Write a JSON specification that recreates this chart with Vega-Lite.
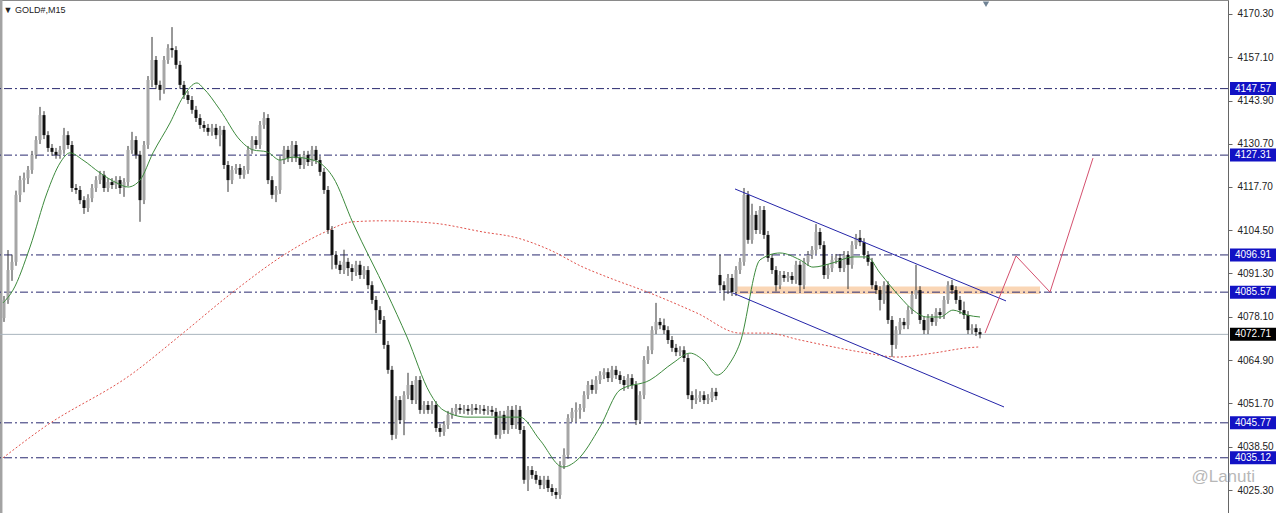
{
"$schema": "https://vega.github.io/schema/vega-lite/v6.json",
"width": 1228, "height": 513,
"autosize": {"type": "none"},
"padding": {"left": 0, "top": 0, "right": 52, "bottom": 0},
"background": "white",
"config": {"view": {"stroke": "#8a8a8a", "strokeWidth": 1}},
"datasets": {
"candles": [
{"i":1,"o":4077.7,"h":4084.4,"l":4076.5,"c":4083.2},
{"i":2,"o":4083.2,"h":4098.4,"l":4082.0,"c":4092.3},
{"i":3,"o":4092.3,"h":4097.0,"l":4089.0,"c":4094.8},
{"i":4,"o":4094.8,"h":4116.5,"l":4093.6,"c":4115.2},
{"i":5,"o":4115.2,"h":4121.0,"l":4113.0,"c":4119.7},
{"i":6,"o":4119.7,"h":4122.0,"l":4116.0,"c":4120.3},
{"i":7,"o":4120.3,"h":4124.0,"l":4118.5,"c":4122.8},
{"i":8,"o":4122.8,"h":4128.6,"l":4121.6,"c":4127.4},
{"i":9,"o":4127.4,"h":4133.1,"l":4126.2,"c":4131.9},
{"i":10,"o":4131.9,"h":4142.0,"l":4130.7,"c":4139.5},
{"i":11,"o":4139.5,"h":4140.7,"l":4132.2,"c":4133.4},
{"i":12,"o":4133.4,"h":4134.6,"l":4128.3,"c":4129.5},
{"i":13,"o":4129.5,"h":4130.7,"l":4127.1,"c":4128.3},
{"i":14,"o":4128.3,"h":4129.5,"l":4126.2,"c":4127.4},
{"i":15,"o":4127.4,"h":4130.1,"l":4126.2,"c":4128.9},
{"i":16,"o":4128.9,"h":4135.6,"l":4127.7,"c":4133.4},
{"i":17,"o":4133.4,"h":4134.6,"l":4129.2,"c":4130.4},
{"i":18,"o":4130.4,"h":4131.6,"l":4116.1,"c":4117.3},
{"i":19,"o":4117.3,"h":4118.5,"l":4115.5,"c":4116.7},
{"i":20,"o":4116.7,"h":4117.9,"l":4112.4,"c":4113.6},
{"i":21,"o":4113.6,"h":4114.8,"l":4109.4,"c":4111.2},
{"i":22,"o":4111.2,"h":4115.4,"l":4110.0,"c":4114.2},
{"i":23,"o":4114.2,"h":4118.5,"l":4113.0,"c":4117.3},
{"i":24,"o":4117.3,"h":4120.9,"l":4116.1,"c":4119.7},
{"i":25,"o":4119.7,"h":4122.5,"l":4118.5,"c":4121.3},
{"i":26,"o":4121.3,"h":4122.5,"l":4116.1,"c":4117.3},
{"i":27,"o":4117.3,"h":4120.3,"l":4116.1,"c":4119.1},
{"i":28,"o":4119.1,"h":4120.3,"l":4117.0,"c":4118.2},
{"i":29,"o":4118.2,"h":4120.9,"l":4117.0,"c":4119.7},
{"i":30,"o":4119.7,"h":4120.9,"l":4115.5,"c":4117.3},
{"i":31,"o":4117.3,"h":4120.3,"l":4114.6,"c":4119.1},
{"i":32,"o":4119.1,"h":4130.1,"l":4117.9,"c":4128.9},
{"i":33,"o":4128.9,"h":4134.4,"l":4127.7,"c":4131.9},
{"i":34,"o":4131.9,"h":4133.1,"l":4126.2,"c":4127.4},
{"i":35,"o":4127.4,"h":4128.6,"l":4107.0,"c":4113.6},
{"i":36,"o":4113.6,"h":4131.6,"l":4112.4,"c":4130.4},
{"i":37,"o":4130.4,"h":4151.4,"l":4129.2,"c":4150.2},
{"i":38,"o":4150.2,"h":4163.3,"l":4148.0,"c":4156.3},
{"i":39,"o":4156.3,"h":4157.5,"l":4147.5,"c":4148.7},
{"i":40,"o":4148.7,"h":4150.0,"l":4144.0,"c":4147.2},
{"i":41,"o":4147.2,"h":4157.5,"l":4146.0,"c":4156.3},
{"i":42,"o":4156.3,"h":4161.1,"l":4155.1,"c":4159.9},
{"i":43,"o":4159.9,"h":4166.3,"l":4157.0,"c":4159.3},
{"i":44,"o":4159.3,"h":4160.5,"l":4153.6,"c":4154.8},
{"i":45,"o":4154.8,"h":4156.0,"l":4147.5,"c":4148.7},
{"i":46,"o":4148.7,"h":4149.9,"l":4144.4,"c":4145.6},
{"i":47,"o":4145.6,"h":4146.8,"l":4142.9,"c":4144.1},
{"i":48,"o":4144.1,"h":4145.3,"l":4139.9,"c":4141.1},
{"i":49,"o":4141.1,"h":4142.3,"l":4137.4,"c":4138.6},
{"i":50,"o":4138.6,"h":4139.8,"l":4135.3,"c":4136.5},
{"i":51,"o":4136.5,"h":4137.7,"l":4134.4,"c":4135.6},
{"i":52,"o":4135.6,"h":4136.8,"l":4133.2,"c":4134.4},
{"i":53,"o":4134.4,"h":4136.8,"l":4133.2,"c":4135.6},
{"i":54,"o":4135.6,"h":4136.8,"l":4132.2,"c":4133.4},
{"i":55,"o":4133.4,"h":4136.2,"l":4130.0,"c":4135.0},
{"i":56,"o":4135.0,"h":4136.2,"l":4123.1,"c":4124.3},
{"i":57,"o":4124.3,"h":4125.5,"l":4116.1,"c":4119.7},
{"i":58,"o":4119.7,"h":4124.0,"l":4118.5,"c":4122.8},
{"i":59,"o":4122.8,"h":4124.6,"l":4121.6,"c":4123.4},
{"i":60,"o":4123.4,"h":4124.6,"l":4120.1,"c":4121.3},
{"i":61,"o":4121.3,"h":4124.0,"l":4120.1,"c":4122.8},
{"i":62,"o":4122.8,"h":4130.1,"l":4121.6,"c":4128.9},
{"i":63,"o":4128.9,"h":4133.1,"l":4127.7,"c":4131.9},
{"i":64,"o":4131.9,"h":4133.1,"l":4129.2,"c":4130.4},
{"i":65,"o":4130.4,"h":4137.7,"l":4129.2,"c":4136.5},
{"i":66,"o":4136.5,"h":4140.4,"l":4135.3,"c":4138.6},
{"i":67,"o":4138.6,"h":4139.8,"l":4118.5,"c":4119.7},
{"i":68,"o":4119.7,"h":4120.9,"l":4114.0,"c":4115.2},
{"i":69,"o":4115.2,"h":4117.9,"l":4113.0,"c":4116.7},
{"i":70,"o":4116.7,"h":4127.0,"l":4115.5,"c":4125.8},
{"i":71,"o":4125.8,"h":4130.1,"l":4124.6,"c":4128.9},
{"i":72,"o":4128.9,"h":4130.1,"l":4125.2,"c":4126.4},
{"i":73,"o":4126.4,"h":4131.6,"l":4125.2,"c":4130.4},
{"i":74,"o":4130.4,"h":4131.6,"l":4125.2,"c":4126.4},
{"i":75,"o":4126.4,"h":4127.6,"l":4123.1,"c":4124.3},
{"i":76,"o":4124.3,"h":4128.6,"l":4123.1,"c":4127.4},
{"i":77,"o":4127.4,"h":4128.6,"l":4124.0,"c":4125.2},
{"i":78,"o":4125.2,"h":4130.1,"l":4124.0,"c":4128.9},
{"i":79,"o":4128.9,"h":4130.1,"l":4124.6,"c":4125.8},
{"i":80,"o":4125.8,"h":4127.0,"l":4121.0,"c":4122.2},
{"i":81,"o":4122.2,"h":4123.4,"l":4115.5,"c":4116.7},
{"i":82,"o":4116.7,"h":4117.9,"l":4103.3,"c":4104.5},
{"i":83,"o":4104.5,"h":4105.7,"l":4092.5,"c":4096.9},
{"i":84,"o":4096.9,"h":4098.1,"l":4092.7,"c":4093.9},
{"i":85,"o":4093.9,"h":4095.1,"l":4091.1,"c":4092.3},
{"i":86,"o":4092.3,"h":4098.5,"l":4091.1,"c":4094.8},
{"i":87,"o":4094.8,"h":4096.0,"l":4090.5,"c":4092.9},
{"i":88,"o":4092.9,"h":4094.1,"l":4089.0,"c":4091.7},
{"i":89,"o":4091.7,"h":4095.1,"l":4090.5,"c":4093.9},
{"i":90,"o":4093.9,"h":4095.1,"l":4089.6,"c":4090.8},
{"i":91,"o":4090.8,"h":4093.5,"l":4089.6,"c":4092.3},
{"i":92,"o":4092.3,"h":4093.5,"l":4086.5,"c":4087.7},
{"i":93,"o":4087.7,"h":4088.9,"l":4082.0,"c":4083.2},
{"i":94,"o":4083.2,"h":4084.4,"l":4073.1,"c":4080.1},
{"i":95,"o":4080.1,"h":4081.3,"l":4075.9,"c":4077.1},
{"i":96,"o":4077.1,"h":4078.3,"l":4068.3,"c":4069.5},
{"i":97,"o":4069.5,"h":4070.7,"l":4060.7,"c":4061.9},
{"i":98,"o":4061.9,"h":4063.1,"l":4040.5,"c":4042.1},
{"i":99,"o":4042.1,"h":4053.9,"l":4040.9,"c":4052.7},
{"i":100,"o":4052.7,"h":4053.9,"l":4045.4,"c":4046.6},
{"i":101,"o":4046.6,"h":4055.4,"l":4042.0,"c":4054.2},
{"i":102,"o":4054.2,"h":4061.0,"l":4053.0,"c":4057.3},
{"i":103,"o":4057.3,"h":4058.5,"l":4051.5,"c":4052.7},
{"i":104,"o":4052.7,"h":4060.0,"l":4051.5,"c":4058.8},
{"i":105,"o":4058.8,"h":4060.0,"l":4048.5,"c":4049.7},
{"i":106,"o":4049.7,"h":4052.4,"l":4048.5,"c":4051.2},
{"i":107,"o":4051.2,"h":4052.4,"l":4048.5,"c":4049.7},
{"i":108,"o":4049.7,"h":4052.4,"l":4048.5,"c":4051.2},
{"i":109,"o":4051.2,"h":4052.4,"l":4043.0,"c":4044.2},
{"i":110,"o":4044.2,"h":4045.4,"l":4041.5,"c":4043.0},
{"i":111,"o":4043.0,"h":4046.3,"l":4041.8,"c":4045.1},
{"i":112,"o":4045.1,"h":4049.4,"l":4043.9,"c":4048.2},
{"i":113,"o":4048.2,"h":4050.3,"l":4047.0,"c":4049.1},
{"i":114,"o":4049.1,"h":4051.5,"l":4047.9,"c":4050.3},
{"i":115,"o":4050.3,"h":4051.5,"l":4048.5,"c":4049.7},
{"i":116,"o":4049.7,"h":4051.2,"l":4048.5,"c":4050.0},
{"i":117,"o":4050.0,"h":4051.2,"l":4048.2,"c":4049.4},
{"i":118,"o":4049.4,"h":4051.5,"l":4048.2,"c":4050.3},
{"i":119,"o":4050.3,"h":4051.5,"l":4048.5,"c":4049.7},
{"i":120,"o":4049.7,"h":4051.2,"l":4048.5,"c":4050.0},
{"i":121,"o":4050.0,"h":4051.2,"l":4048.2,"c":4049.4},
{"i":122,"o":4049.4,"h":4050.9,"l":4048.2,"c":4049.7},
{"i":123,"o":4049.7,"h":4050.9,"l":4047.9,"c":4049.1},
{"i":124,"o":4049.1,"h":4050.3,"l":4040.9,"c":4042.1},
{"i":125,"o":4042.1,"h":4049.4,"l":4040.9,"c":4048.2},
{"i":126,"o":4048.2,"h":4049.4,"l":4042.4,"c":4043.6},
{"i":127,"o":4043.6,"h":4050.9,"l":4042.4,"c":4049.7},
{"i":128,"o":4049.7,"h":4050.9,"l":4043.9,"c":4045.1},
{"i":129,"o":4045.1,"h":4051.2,"l":4043.9,"c":4049.7},
{"i":130,"o":4049.7,"h":4050.9,"l":4042.4,"c":4043.6},
{"i":131,"o":4043.6,"h":4044.8,"l":4027.2,"c":4028.4},
{"i":132,"o":4028.4,"h":4032.6,"l":4025.0,"c":4031.4},
{"i":133,"o":4031.4,"h":4032.6,"l":4028.7,"c":4029.9},
{"i":134,"o":4029.9,"h":4031.1,"l":4027.2,"c":4028.4},
{"i":135,"o":4028.4,"h":4029.6,"l":4025.6,"c":4026.8},
{"i":136,"o":4026.8,"h":4029.6,"l":4025.6,"c":4028.4},
{"i":137,"o":4028.4,"h":4029.6,"l":4024.7,"c":4025.9},
{"i":138,"o":4025.9,"h":4027.1,"l":4023.5,"c":4024.7},
{"i":139,"o":4024.7,"h":4025.9,"l":4022.6,"c":4023.8},
{"i":140,"o":4023.8,"h":4034.1,"l":4022.6,"c":4032.9},
{"i":141,"o":4032.9,"h":4038.0,"l":4031.7,"c":4036.0},
{"i":142,"o":4036.0,"h":4048.4,"l":4034.8,"c":4047.2},
{"i":143,"o":4047.2,"h":4050.3,"l":4046.0,"c":4049.1},
{"i":144,"o":4049.1,"h":4052.0,"l":4046.0,"c":4049.7},
{"i":145,"o":4049.7,"h":4051.5,"l":4047.0,"c":4050.3},
{"i":146,"o":4050.3,"h":4055.4,"l":4049.1,"c":4054.2},
{"i":147,"o":4054.2,"h":4058.5,"l":4053.0,"c":4057.3},
{"i":148,"o":4057.3,"h":4059.0,"l":4054.6,"c":4055.8},
{"i":149,"o":4055.8,"h":4060.0,"l":4054.6,"c":4058.8},
{"i":150,"o":4058.8,"h":4061.5,"l":4057.6,"c":4060.3},
{"i":151,"o":4060.3,"h":4062.4,"l":4059.1,"c":4061.2},
{"i":152,"o":4061.2,"h":4062.4,"l":4058.2,"c":4059.4},
{"i":153,"o":4059.4,"h":4063.1,"l":4058.2,"c":4061.9},
{"i":154,"o":4061.9,"h":4063.1,"l":4059.1,"c":4060.3},
{"i":155,"o":4060.3,"h":4061.5,"l":4057.6,"c":4058.8},
{"i":156,"o":4058.8,"h":4060.0,"l":4055.5,"c":4057.3},
{"i":157,"o":4057.3,"h":4060.6,"l":4056.1,"c":4059.4},
{"i":158,"o":4059.4,"h":4060.6,"l":4056.1,"c":4057.3},
{"i":159,"o":4057.3,"h":4058.5,"l":4045.1,"c":4046.6},
{"i":160,"o":4046.6,"h":4055.4,"l":4045.4,"c":4054.2},
{"i":161,"o":4054.2,"h":4066.1,"l":4053.0,"c":4064.9},
{"i":162,"o":4064.9,"h":4069.1,"l":4063.7,"c":4067.9},
{"i":163,"o":4067.9,"h":4075.2,"l":4066.7,"c":4074.0},
{"i":164,"o":4074.0,"h":4082.3,"l":4072.8,"c":4076.5},
{"i":165,"o":4076.5,"h":4077.7,"l":4074.3,"c":4075.5},
{"i":166,"o":4075.5,"h":4077.5,"l":4072.8,"c":4074.0},
{"i":167,"o":4074.0,"h":4075.2,"l":4069.8,"c":4071.0},
{"i":168,"o":4071.0,"h":4072.2,"l":4067.4,"c":4068.6},
{"i":169,"o":4068.6,"h":4069.8,"l":4066.1,"c":4067.3},
{"i":170,"o":4067.3,"h":4069.1,"l":4066.1,"c":4067.9},
{"i":171,"o":4067.9,"h":4069.1,"l":4064.3,"c":4065.5},
{"i":172,"o":4065.5,"h":4066.7,"l":4053.0,"c":4054.2},
{"i":173,"o":4054.2,"h":4055.4,"l":4050.0,"c":4052.7},
{"i":174,"o":4052.7,"h":4056.0,"l":4051.5,"c":4053.3},
{"i":175,"o":4053.3,"h":4055.4,"l":4052.1,"c":4054.2},
{"i":176,"o":4054.2,"h":4055.4,"l":4051.5,"c":4052.7},
{"i":177,"o":4052.7,"h":4054.5,"l":4051.5,"c":4053.3},
{"i":178,"o":4053.3,"h":4056.4,"l":4052.1,"c":4055.2},
{"i":179,"o":4055.2,"h":4056.4,"l":4052.7,"c":4053.9},
{"i":180,"o":4090.8,"h":4096.9,"l":4086.0,"c":4087.7},
{"i":181,"o":4087.7,"h":4088.9,"l":4083.0,"c":4086.2},
{"i":182,"o":4086.2,"h":4091.1,"l":4085.0,"c":4089.9},
{"i":183,"o":4089.9,"h":4091.1,"l":4084.4,"c":4085.6},
{"i":184,"o":4085.6,"h":4093.5,"l":4084.4,"c":4092.3},
{"i":185,"o":4092.3,"h":4096.0,"l":4091.1,"c":4094.8},
{"i":186,"o":4094.8,"h":4117.3,"l":4093.6,"c":4115.2},
{"i":187,"o":4115.2,"h":4116.4,"l":4100.3,"c":4101.5},
{"i":188,"o":4101.5,"h":4112.5,"l":4100.3,"c":4109.1},
{"i":189,"o":4109.1,"h":4110.3,"l":4103.3,"c":4104.5},
{"i":190,"o":4104.5,"h":4111.8,"l":4103.3,"c":4110.6},
{"i":191,"o":4110.6,"h":4111.8,"l":4101.8,"c":4103.0},
{"i":192,"o":4103.0,"h":4104.2,"l":4094.8,"c":4096.0},
{"i":193,"o":4096.0,"h":4097.2,"l":4091.1,"c":4092.3},
{"i":194,"o":4092.3,"h":4093.5,"l":4085.8,"c":4087.7},
{"i":195,"o":4087.7,"h":4092.0,"l":4086.5,"c":4090.8},
{"i":196,"o":4090.8,"h":4092.0,"l":4088.7,"c":4089.9},
{"i":197,"o":4089.9,"h":4091.7,"l":4088.7,"c":4090.5},
{"i":198,"o":4090.5,"h":4091.7,"l":4088.1,"c":4089.3},
{"i":199,"o":4089.3,"h":4095.1,"l":4088.1,"c":4093.9},
{"i":200,"o":4093.9,"h":4095.1,"l":4085.8,"c":4087.7},
{"i":201,"o":4087.7,"h":4096.0,"l":4086.5,"c":4094.8},
{"i":202,"o":4094.8,"h":4098.1,"l":4093.6,"c":4096.9},
{"i":203,"o":4096.9,"h":4099.6,"l":4095.7,"c":4098.4},
{"i":204,"o":4098.4,"h":4106.3,"l":4097.2,"c":4103.9},
{"i":205,"o":4103.9,"h":4105.1,"l":4098.7,"c":4099.9},
{"i":206,"o":4099.9,"h":4101.1,"l":4089.6,"c":4090.8},
{"i":207,"o":4090.8,"h":4094.1,"l":4089.6,"c":4092.9},
{"i":208,"o":4092.9,"h":4096.6,"l":4091.7,"c":4095.4},
{"i":209,"o":4095.4,"h":4097.2,"l":4094.2,"c":4096.0},
{"i":210,"o":4096.0,"h":4097.2,"l":4091.7,"c":4092.9},
{"i":211,"o":4092.9,"h":4098.1,"l":4091.7,"c":4096.9},
{"i":212,"o":4096.9,"h":4098.1,"l":4086.5,"c":4093.9},
{"i":213,"o":4093.9,"h":4101.1,"l":4092.7,"c":4099.9},
{"i":214,"o":4099.9,"h":4103.3,"l":4098.7,"c":4102.1},
{"i":215,"o":4102.1,"h":4104.5,"l":4099.6,"c":4100.8},
{"i":216,"o":4100.8,"h":4102.0,"l":4095.7,"c":4096.9},
{"i":217,"o":4096.9,"h":4098.1,"l":4093.6,"c":4094.8},
{"i":218,"o":4094.8,"h":4096.0,"l":4086.5,"c":4087.7},
{"i":219,"o":4087.7,"h":4088.9,"l":4085.0,"c":4086.2},
{"i":220,"o":4086.2,"h":4087.4,"l":4080.0,"c":4083.2},
{"i":221,"o":4083.2,"h":4088.9,"l":4082.0,"c":4087.7},
{"i":222,"o":4087.7,"h":4088.9,"l":4075.9,"c":4077.1},
{"i":223,"o":4077.1,"h":4078.3,"l":4065.8,"c":4069.5},
{"i":224,"o":4069.5,"h":4075.2,"l":4068.3,"c":4074.0},
{"i":225,"o":4074.0,"h":4077.7,"l":4072.8,"c":4076.5},
{"i":226,"o":4076.5,"h":4077.7,"l":4074.3,"c":4075.5},
{"i":227,"o":4075.5,"h":4081.3,"l":4074.3,"c":4080.1},
{"i":228,"o":4080.1,"h":4085.9,"l":4078.9,"c":4084.7},
{"i":229,"o":4084.7,"h":4093.9,"l":4083.5,"c":4086.2},
{"i":230,"o":4086.2,"h":4087.4,"l":4075.9,"c":4077.1},
{"i":231,"o":4077.1,"h":4078.3,"l":4072.8,"c":4074.0},
{"i":232,"o":4074.0,"h":4078.9,"l":4072.8,"c":4077.7},
{"i":233,"o":4077.7,"h":4078.9,"l":4075.3,"c":4076.5},
{"i":234,"o":4076.5,"h":4080.7,"l":4075.3,"c":4079.5},
{"i":235,"o":4079.5,"h":4080.7,"l":4077.4,"c":4078.6},
{"i":236,"o":4078.6,"h":4084.4,"l":4077.4,"c":4083.2},
{"i":237,"o":4083.2,"h":4088.9,"l":4082.0,"c":4087.7},
{"i":238,"o":4087.7,"h":4089.3,"l":4085.0,"c":4086.2},
{"i":239,"o":4086.2,"h":4087.4,"l":4082.0,"c":4083.2},
{"i":240,"o":4083.2,"h":4084.4,"l":4078.9,"c":4080.1},
{"i":241,"o":4080.1,"h":4082.7,"l":4077.4,"c":4078.6},
{"i":242,"o":4078.6,"h":4079.8,"l":4072.8,"c":4074.0},
{"i":243,"o":4074.0,"h":4075.8,"l":4072.8,"c":4074.6},
{"i":244,"o":4074.6,"h":4075.8,"l":4072.2,"c":4073.4},
{"i":245,"o":4073.4,"h":4074.6,"l":4071.5,"c":4072.71}
],
"fast": [
{"b":0.75,"p":4082.3},{"b":3.25,"p":4086.2},{"b":7.5,"p":4099.3},{"b":11.75,"p":4115.8},{"b":15,"p":4124.9},{"b":17.5,"p":4128.0},{"b":20.75,"p":4125.8},{"b":25,"p":4121.9},{"b":29.25,"p":4118.8},{"b":32,"p":4117.6},{"b":35,"p":4119.7},{"b":38.25,"p":4128.0},{"b":42.5,"p":4137.1},{"b":45.75,"p":4145.0},{"b":49.25,"p":4149.3},{"b":50.75,"p":4147.8},{"b":55,"p":4141.1},{"b":60,"p":4131.9},{"b":63.25,"p":4128.9},{"b":66.75,"p":4128.3},{"b":70,"p":4125.8},{"b":73.25,"p":4126.7},{"b":78.25,"p":4125.8},{"b":80,"p":4124.9},{"b":83.25,"p":4120.6},{"b":88.25,"p":4106.6},{"b":96.75,"p":4085.3},{"b":101.75,"p":4071.9},{"b":107.5,"p":4054.8},{"b":110.75,"p":4049.7},{"b":116.75,"p":4047.5},{"b":123.25,"p":4047.5},{"b":130,"p":4047.5},{"b":135,"p":4040.5},{"b":140.75,"p":4032.3},{"b":144.25,"p":4034.4},{"b":150,"p":4044.5},{"b":155,"p":4055.8},{"b":162.5,"p":4058.8},{"b":168.25,"p":4064.0},{"b":172.5,"p":4067.0},{"b":175.75,"p":4064.9},{"b":179.25,"p":4060.3},{"b":182.5,"p":4064.0},{"b":185,"p":4070.1},{"b":190,"p":4095.4},{"b":195,"p":4097.5},{"b":200,"p":4095.4},{"b":203.25,"p":4093.2},{"b":208.25,"p":4094.5},{"b":213.25,"p":4096.3},{"b":216.75,"p":4096.3},{"b":220,"p":4091.4},{"b":225,"p":4084.1},{"b":228.25,"p":4080.1},{"b":231.75,"p":4078.0},{"b":235,"p":4078.0},{"b":238.25,"p":4080.1},{"b":241.75,"p":4078.6},{"b":245,"p":4078.0}
],
"slow": [
{"b":0.75,"p":4035.1},{"b":10.75,"p":4044.2},{"b":33.25,"p":4060.9},{"b":45.75,"p":4073.1},{"b":58.25,"p":4085.6},{"b":71.75,"p":4097.5},{"b":80.75,"p":4103.6},{"b":88.25,"p":4107.0},{"b":95.75,"p":4107.3},{"b":108.25,"p":4106.6},{"b":120.75,"p":4103.9},{"b":129.25,"p":4102.1},{"b":137.5,"p":4098.4},{"b":145.75,"p":4093.2},{"b":151.75,"p":4090.2},{"b":162.5,"p":4085.3},{"b":174.25,"p":4079.2},{"b":185,"p":4073.1},{"b":191.75,"p":4073.1},{"b":200,"p":4071.0},{"b":208.25,"p":4068.9},{"b":216.75,"p":4067.0},{"b":224.25,"p":4065.8},{"b":233.25,"p":4067.0},{"b":241.75,"p":4068.6},{"b":245,"p":4068.9}
],
"levels": [{"p":4147.57},{"p":4127.31},{"p":4096.91},{"p":4085.57},{"p":4045.77},{"p":4035.12}],
"channel": [{"g":"u","b":183.75,"p":4117.0},{"g":"u","b":251.5,"p":4082.9},{"g":"d","b":183.25,"p":4085.3},{"g":"d","b":251,"p":4050.6}],
"path": [{"b":246.25,"p":4073.1},{"b":254,"p":4096.6},{"b":262.5,"p":4085.6},{"b":273.25,"p":4126.4}],
"band": [{"b1":183.75,"b2":260,"p1":4085.0,"p2":4087.3}],
"tags": [{"p":4147.57,"kind":"level"},{"p":4127.31,"kind":"level"},{"p":4096.91,"kind":"level"},{"p":4085.57,"kind":"level"},{"p":4072.71,"kind":"last"},{"p":4045.77,"kind":"level"},{"p":4035.12,"kind":"level"}]
},
"layer": [
{"data": {"name": "band"}, "mark": {"type": "rect", "color": "#f9cfa8", "opacity": 0.85},
 "encoding": {"x": {"field": "b1", "type": "quantitative", "scale": {"domain": [0, 307], "nice": false, "zero": false, "padding": 0}, "axis": null},
  "x2": {"field": "b2"},
  "y": {"field": "p1", "type": "quantitative", "scale": {"domain": [4018.3, 4174.56], "nice": false, "zero": false, "padding": 0},
   "axis": {"orient": "right", "values": [4170.3,4157.1,4143.9,4130.7,4117.7,4104.5,4091.3,4078.1,4064.9,4051.7,4038.5,4025.3], "format": ".2f", "title": null, "grid": false, "labelFont": "Liberation Sans", "labelFontSize": 10, "labelColor": "#222", "tickSize": 4, "labelPadding": 5, "domainColor": "#666", "tickColor": "#666"}},
  "y2": {"field": "p2"}}},
{"data": {"values": [{"k": 1}]}, "mark": {"type": "rule", "color": "#a3a3a3", "strokeWidth": 2.5},
 "encoding": {"x": {"datum": 0.3}}},
{"data": {"name": "levels"}, "mark": {"type": "rule", "color": "#2a2a70", "strokeWidth": 1, "strokeDash": [8, 3, 2, 3]},
 "encoding": {"y": {"field": "p", "type": "quantitative"}}},
{"data": {"values": [{"p": 4072.71}]}, "mark": {"type": "rule", "color": "#a9b4bd", "strokeWidth": 1},
 "encoding": {"y": {"field": "p", "type": "quantitative"}}},
{"data": {"name": "slow"}, "mark": {"type": "line", "color": "#e0504a", "strokeWidth": 1, "strokeDash": [2, 2], "interpolate": "monotone"},
 "encoding": {"x": {"field": "b", "type": "quantitative"}, "y": {"field": "p", "type": "quantitative"}}},
{"data": {"name": "candles"}, "mark": {"type": "rule", "color": "#333", "strokeWidth": 1},
 "encoding": {"x": {"field": "i", "type": "quantitative"}, "y": {"field": "l", "type": "quantitative"}, "y2": {"field": "h"}}},
{"data": {"name": "candles"}, "mark": {"type": "bar", "width": 3},
 "encoding": {"x": {"field": "i", "type": "quantitative"}, "y": {"field": "o", "type": "quantitative"}, "y2": {"field": "c"},
  "color": {"condition": {"test": "datum.c >= datum.o", "value": "#a6a6a6"}, "value": "#111111"}}},
{"data": {"name": "fast"}, "mark": {"type": "line", "color": "#3d8a3d", "strokeWidth": 1, "interpolate": "monotone"},
 "encoding": {"x": {"field": "b", "type": "quantitative"}, "y": {"field": "p", "type": "quantitative"}}},
{"data": {"name": "channel"}, "mark": {"type": "line", "color": "#2424a8", "strokeWidth": 1},
 "encoding": {"x": {"field": "b", "type": "quantitative"}, "y": {"field": "p", "type": "quantitative"}, "detail": {"field": "g"}}},
{"data": {"name": "path"}, "mark": {"type": "line", "color": "#d4506e", "strokeWidth": 1},
 "encoding": {"x": {"field": "b", "type": "quantitative"}, "y": {"field": "p", "type": "quantitative"}}},
{"data": {"name": "tags"}, "mark": {"type": "bar", "height": 13},
 "encoding": {"x": {"datum": 307.5}, "x2": {"datum": 319.0}, "y": {"field": "p", "type": "quantitative"},
  "color": {"field": "kind", "type": "nominal", "scale": {"domain": ["level", "last"], "range": ["#1212c4", "#000000"]}, "legend": null}}},
{"data": {"name": "tags"}, "mark": {"type": "text", "color": "white", "font": "Liberation Sans", "fontSize": 10, "align": "center", "baseline": "middle"},
 "encoding": {"x": {"datum": 313.25}, "y": {"field": "p", "type": "quantitative"}, "text": {"field": "p", "type": "quantitative", "format": ".2f"}}},
{"data": {"values": [{"t": "▼ GOLD#,M15"}]}, "mark": {"type": "text", "color": "#222", "font": "Liberation Sans", "fontSize": 9, "align": "left", "baseline": "middle"},
 "encoding": {"x": {"datum": 0.9}, "y": {"datum": 4171.5}, "text": {"field": "t"}}},
{"data": {"values": [{"t": "@Lanuti"}]}, "mark": {"type": "text", "color": "#9a9a9a", "opacity": 0.7, "font": "Liberation Sans", "fontSize": 17, "align": "center", "baseline": "middle"},
 "encoding": {"x": {"datum": 305.8}, "y": {"datum": 4029.4}, "text": {"field": "t"}}},
{"data": {"values": [{"k": 1}]}, "mark": {"type": "point", "shape": "triangle-down", "filled": true, "color": "#6f8294", "size": 40, "opacity": 1},
 "encoding": {"x": {"datum": 246.5}, "y": {"datum": 4173.3}}}
]
}
